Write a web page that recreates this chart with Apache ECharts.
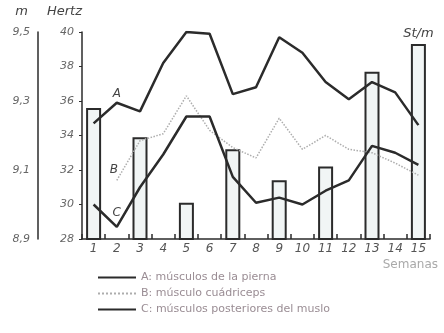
<!DOCTYPE html>
<html>
<head>
<meta charset="utf-8">
<script src="https://cdn.jsdelivr.net/npm/echarts@6/dist/echarts.min.js"></script>
<style>
html,body{margin:0;padding:0;background:#fff;}
#c{width:444px;height:333px;}
</style>
</head>
<body>
<div id="c"></div>
<script>
const weeks = ['1','2','3','4','5','6','7','8','9','10','11','12','13','14','15'];
const mTicks = [8.9, 9.5, 0.2];      // min, max, interval of the m axis
const hzTicks = [28, 40, 2];         // min, max, interval of the Hertz axis
const barsM = [9.28, null, 9.195, null, 9.005, null, 9.16, null, 9.07, null, 9.11, null, 9.385, null, 9.465];
const lineA = [34.7, 35.9, 35.4, 38.2, 40.0, 39.9, 36.4, 36.8, 39.7, 38.8, 37.1, 36.1, 37.1, 36.5, 34.6];
const lineB = [null, 31.4, 33.7, 34.1, 36.3, 34.3, 33.3, 32.7, 35.0, 33.2, 34.0, 33.2, 33.0, 32.4, 31.7];
const lineC = [30.0, 28.7, 31.0, 32.9, 35.1, 35.1, 31.6, 30.1, 30.4, 30.0, 30.8, 31.4, 33.4, 33.0, 32.3];
const names = ['A: músculos de la pierna', 'B: músculo cuádriceps', 'C: músculos posteriores del muslo'];
const lineTags = ['A', 'B', 'C'];

const ink = '#2b2b2b';
const font = 'DejaVu Sans';

function tag(arr, idx, text, extra) {
  return arr.map((v, i) => i === idx ? {value: v, label: Object.assign({show: true, formatter: text, color: '#444', fontStyle: 'italic', fontSize: 12, fontFamily: font}, extra)} : v);
}

const chart = echarts.init(document.getElementById('c'), null, {renderer: 'canvas'});
chart.setOption({
  animation: false,
  backgroundColor: '#fff',
  grid: {left: 82, right: 14, top: 32, bottom: 94},
  legend: {
    orient: 'vertical', left: 92, top: 267,
    itemWidth: 38, itemHeight: 12, itemGap: 5,
    data: names,
    itemStyle: {opacity: 0},
    textStyle: {color: '#9a8d94', fontSize: 11, fontFamily: font}
  },
  xAxis: {
    type: 'category', data: weeks, boundaryGap: true,
    name: 'Semanas', nameLocation: 'end', nameGap: 8,
    nameTextStyle: {color: '#a9a9a9', fontSize: 12, fontFamily: font, align: 'right', verticalAlign: 'top', padding: [20, 0, 0, 0]},
    axisLine: {lineStyle: {color: ink, width: 1.5}},
    axisTick: {show: true, inside: true, length: 5, interval: 0, lineStyle: {color: ink, width: 1.5}},
    axisLabel: {color: '#555', fontSize: 12, fontStyle: 'italic', fontFamily: font, margin: 4, interval: 0}
  },
  yAxis: [
    {
      type: 'value', position: 'left', offset: 44,
      min: mTicks[0], max: mTicks[1], interval: mTicks[2],
      name: 'm', nameLocation: 'end', nameGap: 14,
      nameTextStyle: {color: '#444', fontSize: 13, fontStyle: 'italic', fontFamily: font, align: 'right', padding: [0, 10, 0, 0]},
      axisLine: {show: true, lineStyle: {color: ink, width: 1.5}},
      axisTick: {show: false},
      splitLine: {show: false},
      axisLabel: {color: '#666', fontSize: 11, fontStyle: 'italic', fontFamily: font, margin: 8,
        formatter: v => v.toFixed(1).replace('.', ',')}
    },
    {
      type: 'value', position: 'left', offset: 0,
      min: hzTicks[0], max: hzTicks[1], interval: hzTicks[2],
      name: 'Hertz', nameLocation: 'end', nameGap: 14,
      nameTextStyle: {color: '#444', fontSize: 13, fontStyle: 'italic', fontFamily: font, align: 'right', padding: [0, 0, 0, 0]},
      axisLine: {show: true, lineStyle: {color: ink, width: 1.5}},
      axisTick: {show: true, length: 3, lineStyle: {color: ink}},
      splitLine: {show: false},
      axisLabel: {color: '#666', fontSize: 11, fontStyle: 'italic', fontFamily: font, margin: 8}
    }
  ],
  series: [
    {
      name: 'St/m', type: 'bar', yAxisIndex: 0, barWidth: 15,
      data: barsM.map((v, i) => i === barsM.length - 1 ? {value: v, label: {show: true, position: 'top', distance: 4, formatter: 'St/m', color: '#444', fontSize: 13, fontStyle: 'italic', fontFamily: font}} : v),
      itemStyle: {color: '#f1f5f5', borderColor: ink, borderWidth: 2},
      z: 1
    },
    {
      name: names[0], type: 'line', yAxisIndex: 1, data: tag(lineA, 1, lineTags[0], {position: 'top', distance: 3}),
      symbol: 'circle', symbolSize: 0, showSymbol: true,
      lineStyle: {color: ink, width: 2.5}, itemStyle: {color: ink}, z: 3
    },
    {
      name: names[1], type: 'line', yAxisIndex: 1, data: tag(lineB, 1, lineTags[1], {position: 'top', distance: 4, offset: [-3, 0]}),
      symbol: 'circle', symbolSize: 0, showSymbol: true,
      lineStyle: {color: '#adadad', width: 1.5, type: 'dotted'}, itemStyle: {color: '#adadad'}, z: 2
    },
    {
      name: names[2], type: 'line', yAxisIndex: 1, data: tag(lineC, 1, lineTags[2], {position: 'top', distance: 8}),
      symbol: 'circle', symbolSize: 0, showSymbol: true,
      lineStyle: {color: ink, width: 2.5}, itemStyle: {color: ink}, z: 3
    }
  ]
});
</script>
</body>
</html>
